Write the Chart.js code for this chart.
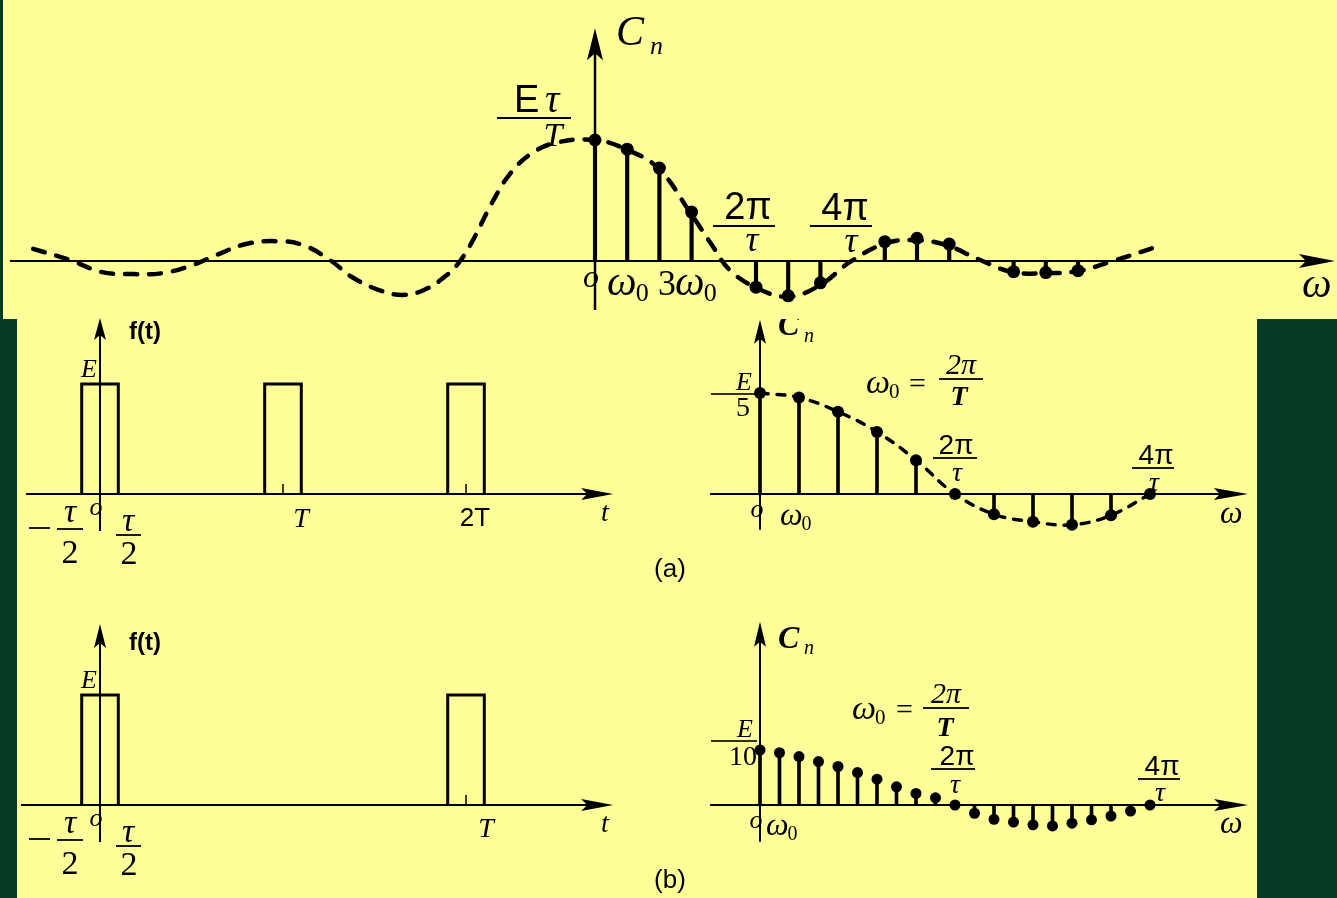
<!DOCTYPE html>
<html>
<head>
<meta charset="utf-8">
<script src="https://cdn.jsdelivr.net/npm/chart.js@4/dist/chart.umd.min.js"></script>
<style>
  html, body { margin: 0; padding: 0; width: 1337px; height: 898px; overflow: hidden; background: #063a26; position: relative; }
  .panel { position: absolute; background: #ffff99; }
  canvas { position: absolute; }
</style>
</head>
<body>
<div class="panel" style="left:3px;top:0;width:1334px;height:319px"></div>
<div class="panel" style="left:17px;top:319px;width:1240px;height:579px"></div>
<canvas id="topSpec"></canvas>
<canvas id="aTime"></canvas>
<canvas id="aSpec"></canvas>
<canvas id="bTime"></canvas>
<canvas id="bSpec"></canvas>
<script>
// ---- Spectrum of a periodic rectangular pulse train, T = 4τ (amplitudes in units of E)
const topHarmonics = [0, 1, 2, 3, 5, 6, 7, 9, 10, 11, 13, 14, 15];
const topCn        = [0.25, 0.231, 0.192, 0.101, -0.054, -0.072, -0.045, 0.040, 0.047, 0.035, -0.022, -0.024, -0.020];
// sampling envelope (dashed), x in multiples of ω0
const topEnvW = [-17.45, -16.30, -15.31, -14.35, -13.42, -12.48, -11.77, -10.84, -9.88, -9.07, -8.23, -7.55, -6.71, -5.99, -5.31, -4.60, -4.19, -3.79, -3.20, -2.64, -2.02, -1.24, 0, 0.96, 1.96, 2.95, 3.63, 4.19, 5.03, 6.0, 6.99, 7.92, 9.04, 9.97, 10.9, 11.96, 12.98, 14.0, 14.99, 15.99, 17.33];
const topEnvC = [0.025, 0.002, -0.023, -0.027, -0.025, -0.008, 0.012, 0.035, 0.041, 0.033, 0.002, -0.033, -0.060, -0.070, -0.060, -0.029, 0, 0.043, 0.120, 0.180, 0.220, 0.244, 0.25, 0.231, 0.192, 0.101, 0.033, -0.019, -0.056, -0.074, -0.050, -0.002, 0.037, 0.043, 0.033, 0.002, -0.023, -0.025, -0.021, -0.002, 0.027];

// ---- (a) pulse train with T = 5τ (time in units of τ)
const aPulseCenters = [0, 5, 10];
const aHarmonics = [0, 1, 2, 3, 4, 5, 6, 7, 8, 9, 10];
const aCn        = [0.200, 0.191, 0.163, 0.123, 0.067, 0, -0.040, -0.055, -0.061, -0.042, 0];

// ---- (b) pulse train with T = 10τ
const bPulseCenters = [0, 10];
const bHarmonics = [0, 1, 2, 3, 4, 5, 6, 7, 8, 9, 10, 11, 12, 13, 14, 15, 16, 17, 18, 19, 20];
const bCn        = [0.100, 0.095, 0.088, 0.079, 0.070, 0.059, 0.047, 0.033, 0.021, 0.013, 0, -0.015, -0.026, -0.031, -0.036, -0.038, -0.033, -0.027, -0.020, -0.011, 0];

const pulseWidth = 1;   // τ
const pulseHeight = 1;  // E

const SERIF = '"Liberation Serif","DejaVu Serif",serif';
const SANS = '"Liberation Sans","DejaVu Sans",sans-serif';

// ---------- drawing helpers ----------
function txt(ctx, s, x, y, font, align) {
  ctx.font = font; ctx.textAlign = align || 'left'; ctx.textBaseline = 'alphabetic';
  ctx.fillStyle = '#000'; ctx.fillText(s, x, y);
}
function hbar(ctx, x1, x2, y, w) { ctx.fillStyle = '#000'; ctx.fillRect(x1, y - (w || 1.6) / 2, x2 - x1, w || 1.6); }
function omega0(ctx, x, y, size) {
  txt(ctx, 'ω', x, y, `italic ${size}px ${SERIF}`);
  const w = ctx.measureText('ω').width;
  txt(ctx, '0', x + w - 1, y + size * 0.15, `${Math.round(size * 0.62)}px ${SERIF}`);
}
function arrow(ctx, x, y, dx, dy, a) {
  const px = -dy, py = dx;
  const bx = x - dx * a.len, by = y - dy * a.len;
  ctx.beginPath();
  ctx.moveTo(x, y);
  ctx.lineTo(bx + px * a.half, by + py * a.half);
  ctx.lineTo(x - dx * (a.len - a.notch), y - dy * (a.len - a.notch));
  ctx.lineTo(bx - px * a.half, by - py * a.half);
  ctx.closePath();
  ctx.fillStyle = '#000';
  ctx.fill();
}

// ---------- dataset builders ----------
function stems(xs, ys, thick) {
  return { type: 'bar', data: xs.map((x, i) => ({ x, y: ys[i] })), backgroundColor: '#000',
           borderWidth: 0, barThickness: thick, order: 2 };
}
function dots(xs, ys, r) {
  return { type: 'line', showLine: false, data: xs.map((x, i) => ({ x, y: ys[i] })),
           pointRadius: r, pointBackgroundColor: '#000', pointBorderWidth: 0, order: 1 };
}
function envelope(xs, ys, w, dash) {
  return { type: 'line', data: xs.map((x, i) => ({ x, y: ys[i] })), borderColor: '#000', borderWidth: w,
           borderDash: dash, borderCapStyle: 'round', pointRadius: 0, tension: 0.4,
           fill: false, order: 3 };
}
function pulses(centers) {
  return centers.map(c => ({
    type: 'line', borderColor: '#000', borderWidth: 3, pointRadius: 0, tension: 0, fill: false,
    borderJoinStyle: 'miter', order: 2,
    data: [{ x: c - pulseWidth / 2, y: 0 }, { x: c - pulseWidth / 2, y: pulseHeight },
           { x: c + pulseWidth / 2, y: pulseHeight }, { x: c + pulseWidth / 2, y: 0 }]
  }));
}

// ---------- chart factory ----------
function makeChart(id, frame, datasets, axes, labels) {
  const { box, map } = frame;
  const cv = document.getElementById(id);
  cv.width = box.width; cv.height = box.height;
  cv.style.left = box.left + 'px'; cv.style.top = box.top + 'px';
  const xmin = (box.left - map.x0) / map.sx, xmax = (box.left + box.width - map.x0) / map.sx;
  const ymax = (map.y0 - box.top) / map.sy, ymin = (map.y0 - box.top - box.height) / map.sy;
  return new Chart(cv, {
    type: 'line',
    data: { datasets },
    options: {
      responsive: false, animation: false, events: [],
      layout: { padding: 0, autoPadding: false },
      plugins: { legend: { display: false }, tooltip: { enabled: false } },
      scales: {
        x: { type: 'linear', min: xmin, max: xmax, display: false, offset: false },
        y: { type: 'linear', min: ymin, max: ymax, display: false }
      }
    },
    plugins: [{
      id: 'axesAndText',
      beforeDatasetsDraw(chart) {
        const ctx = chart.ctx, X = v => chart.scales.x.getPixelForValue(v), Y = v => chart.scales.y.getPixelForValue(v);
        ctx.save();
        ctx.strokeStyle = '#000';
        // horizontal axis
        const y0 = Y(0), xa = X(axes.x[0]), xb = X(axes.x[1]);
        ctx.lineWidth = axes.hw;
        ctx.beginPath(); ctx.moveTo(xa, y0); ctx.lineTo(xb - axes.hArrow.len * 0.5, y0); ctx.stroke();
        arrow(ctx, xb, y0, 1, 0, axes.hArrow);
        // vertical axis
        const x0 = X(0), ya = Y(axes.y[0]), yb = Y(axes.y[1]);
        ctx.lineWidth = axes.vw;
        ctx.beginPath(); ctx.moveTo(x0, ya); ctx.lineTo(x0, yb + axes.vArrow.len * 0.5); ctx.stroke();
        arrow(ctx, x0, yb, 0, -1, axes.vArrow);
        // small tick marks
        ctx.lineWidth = 1.5;
        (axes.ticks || []).forEach(t => {
          ctx.beginPath(); ctx.moveTo(X(t), y0); ctx.lineTo(X(t), y0 - 10); ctx.stroke();
        });
        ctx.restore();
      },
      afterDatasetsDraw(chart) {
        const ctx = chart.ctx;
        ctx.save();
        ctx.translate(-box.left, -box.top);
        labels(ctx);
        ctx.restore();
      }
    }]
  });
}

// ---------- top: spectrum for T = 4τ ----------
makeChart('topSpec',
  { box: { left: 0, top: 0, width: 1337, height: 319 }, map: { x0: 595, sx: 32.2, y0: 261, sy: 484 } },
  [envelope(topEnvW, topEnvC, 4.5, [12, 12]), stems(topHarmonics, topCn, 3.5), dots(topHarmonics, topCn, 6.5)],
  { x: [-18.17, 22.98], y: [-0.101, 0.481], hw: 2, vw: 2.5,
    hArrow: { len: 36, half: 7, notch: 7 }, vArrow: { len: 32, half: 8, notch: 7 } },
  ctx => {
    txt(ctx, 'C', 616, 45, `italic 42px ${SERIF}`);
    txt(ctx, 'n', 650, 54, `italic 26px ${SERIF}`);
    txt(ctx, 'E', 514, 112, `38px ${SANS}`);
    txt(ctx, 'τ', 545, 112, `italic 40px ${SERIF}`);
    hbar(ctx, 497, 571, 118, 2);
    txt(ctx, 'T', 553, 146, `italic 34px ${SERIF}`, 'center');
    txt(ctx, 'o', 591, 287, `italic 32px ${SERIF}`, 'center');
    omega0(ctx, 607, 295, 42);
    txt(ctx, '3', 658, 295, `36px ${SERIF}`);
    omega0(ctx, 675, 295, 42);
    txt(ctx, '2π', 748, 219, `38px ${SANS}`, 'center');
    hbar(ctx, 713, 775, 226, 2);
    txt(ctx, 'τ', 752, 251, `italic 36px ${SERIF}`, 'center');
    txt(ctx, '4π', 845, 220, `38px ${SANS}`, 'center');
    hbar(ctx, 810, 872, 226, 2);
    txt(ctx, 'τ', 851, 252, `italic 36px ${SERIF}`, 'center');
    txt(ctx, 'ω', 1302, 297, `italic 42px ${SERIF}`);
  });

// ---------- time-domain labels shared by (a) and (b) ----------
function timeLabels(ctx, dy) {
  txt(ctx, 'f(t)', 129, 339 + dy, `bold 24px ${SANS}`);
  txt(ctx, 'E', 81, 377 + dy, `italic 26px ${SERIF}`);
  hbar(ctx, 29, 50, 528 + dy, 1.8);
  txt(ctx, 'τ', 70, 522 + dy, `italic 34px ${SERIF}`, 'center');
  hbar(ctx, 57, 83, 529 + dy, 1.8);
  txt(ctx, '2', 70, 563 + dy, `34px ${SERIF}`, 'center');
  txt(ctx, 'o', 96, 515 + dy, `italic 26px ${SERIF}`, 'center');
  txt(ctx, 'τ', 128, 531 + dy, `italic 34px ${SERIF}`, 'center');
  hbar(ctx, 116, 141, 535 + dy, 1.8);
  txt(ctx, '2', 129, 564 + dy, `34px ${SERIF}`, 'center');
  txt(ctx, 't', 605, 521 + dy, `italic 28px ${SERIF}`, 'center');
}

// ---------- (a) time ----------
makeChart('aTime',
  { box: { left: 17, top: 316, width: 683, height: 283 }, map: { x0: 100, sx: 36.6, y0: 494, sy: 110 } },
  pulses(aPulseCenters),
  { x: [-2.02, 14.02], y: [-0.336, 1.6], hw: 2, vw: 2,
    hArrow: { len: 32, half: 6, notch: 6 }, vArrow: { len: 22, half: 6, notch: 5 }, ticks: [5, 10] },
  ctx => {
    timeLabels(ctx, 0);
    txt(ctx, 'T', 301, 527, `italic 28px ${SERIF}`, 'center');
    txt(ctx, '2T', 475, 526, `26px ${SANS}`, 'center');
    txt(ctx, '(a)', 670, 577, `26px ${SANS}`, 'center');
  });

// ---------- (a) spectrum ----------
makeChart('aSpec',
  { box: { left: 700, top: 319, width: 557, height: 280 }, map: { x0: 760, sx: 39, y0: 494, sy: 505 } },
  [envelope(aHarmonics, aCn, 3.5, [8, 9]), stems(aHarmonics, aCn, 3), dots(aHarmonics, aCn, 6)],
  { x: [-1.28, 12.51], y: [-0.071, 0.345], hw: 2, vw: 2,
    hArrow: { len: 34, half: 6, notch: 6 }, vArrow: { len: 24, half: 6, notch: 5 } },
  ctx => {
    txt(ctx, 'C', 778, 335, `bold italic 32px ${SERIF}`);
    txt(ctx, 'n', 804, 342, `italic 20px ${SERIF}`);
    txt(ctx, 'E', 744, 390, `italic 26px ${SERIF}`, 'center');
    hbar(ctx, 711, 756, 394, 1.6);
    txt(ctx, '5', 743, 416, `28px ${SERIF}`, 'center');
    omega0(ctx, 866, 393, 34);
    txt(ctx, '=', 909, 393, `30px ${SERIF}`);
    txt(ctx, '2π', 961, 374, `italic 30px ${SERIF}`, 'center');
    hbar(ctx, 939, 983, 379, 1.8);
    txt(ctx, 'T', 959, 405, `bold italic 28px ${SERIF}`, 'center');
    txt(ctx, '2π', 956, 454, `28px ${SANS}`, 'center');
    hbar(ctx, 933, 977, 458, 1.8);
    txt(ctx, 'τ', 957, 481, `italic 28px ${SERIF}`, 'center');
    txt(ctx, '4π', 1156, 464, `28px ${SANS}`, 'center');
    hbar(ctx, 1132, 1174, 468, 1.8);
    txt(ctx, 'τ', 1154, 491, `italic 28px ${SERIF}`, 'center');
    txt(ctx, 'o', 757, 517, `italic 26px ${SERIF}`, 'center');
    omega0(ctx, 780, 525, 32);
    txt(ctx, 'ω', 1220, 523, `italic 32px ${SERIF}`);
  });

// ---------- (b) time ----------
makeChart('bTime',
  { box: { left: 17, top: 599, width: 683, height: 299 }, map: { x0: 100, sx: 36.6, y0: 805, sy: 110 } },
  pulses(bPulseCenters),
  { x: [-2.16, 14.02], y: [-0.336, 1.645], hw: 2, vw: 2,
    hArrow: { len: 32, half: 6, notch: 6 }, vArrow: { len: 24, half: 6, notch: 5 }, ticks: [10] },
  ctx => {
    timeLabels(ctx, 311);
    txt(ctx, 'T', 486, 837, `italic 28px ${SERIF}`, 'center');
    txt(ctx, '(b)', 670, 888, `26px ${SANS}`, 'center');
  });

// ---------- (b) spectrum ----------
makeChart('bSpec',
  { box: { left: 700, top: 599, width: 557, height: 299 }, map: { x0: 760, sx: 19.5, y0: 805, sy: 550 } },
  [stems(bHarmonics, bCn, 3), dots(bHarmonics, bCn, 5.5)],
  { x: [-2.56, 25.03], y: [-0.067, 0.333], hw: 2, vw: 2,
    hArrow: { len: 34, half: 6, notch: 6 }, vArrow: { len: 25, half: 6, notch: 5 } },
  ctx => {
    txt(ctx, 'C', 778, 648, `bold italic 32px ${SERIF}`);
    txt(ctx, 'n', 804, 654, `italic 20px ${SERIF}`);
    txt(ctx, 'E', 745, 737, `italic 26px ${SERIF}`, 'center');
    hbar(ctx, 711, 757, 741, 1.6);
    txt(ctx, '10', 743, 765, `28px ${SERIF}`, 'center');
    omega0(ctx, 852, 719, 34);
    txt(ctx, '=', 896, 719, `30px ${SERIF}`);
    txt(ctx, '2π', 946, 703, `italic 30px ${SERIF}`, 'center');
    hbar(ctx, 923, 969, 708, 1.8);
    txt(ctx, 'T', 945, 736, `bold italic 28px ${SERIF}`, 'center');
    txt(ctx, '2π', 957, 765, `28px ${SANS}`, 'center');
    hbar(ctx, 931, 975, 769, 1.8);
    txt(ctx, 'τ', 955, 793, `italic 28px ${SERIF}`, 'center');
    txt(ctx, '4π', 1162, 775, `28px ${SANS}`, 'center');
    hbar(ctx, 1138, 1180, 779, 1.8);
    txt(ctx, 'τ', 1160, 801, `italic 28px ${SERIF}`, 'center');
    txt(ctx, 'o', 756, 828, `italic 26px ${SERIF}`, 'center');
    omega0(ctx, 766, 835, 32);
    txt(ctx, 'ω', 1220, 833, `italic 32px ${SERIF}`);
  });
</script>
</body>
</html>
